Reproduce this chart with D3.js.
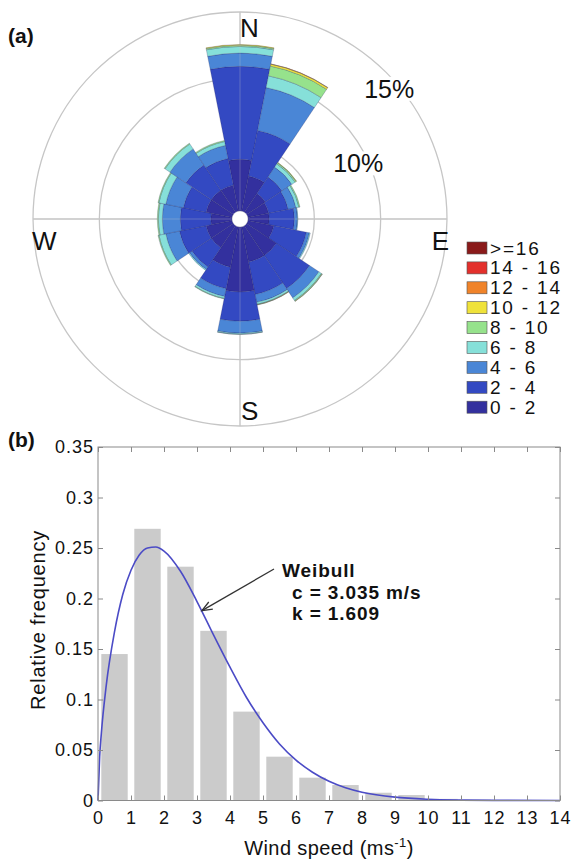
<!DOCTYPE html>
<html><head><meta charset="utf-8">
<script src="https://cdn.jsdelivr.net/npm/d3@7"></script>
<style>
body{margin:0;background:#fff}
svg{display:block}
text{font-family:"Liberation Sans",Arial,Helvetica,sans-serif;fill:#111}
</style>
</head><body>
<svg id="c" width="572" height="859"></svg>
<script>
// ---------- DATA: panel (a) wind rose (percent of time) ----------
const directions = ["N","NNE","NE","ENE","E","ESE","SE","SSE","S","SSW","SW","WSW","W","WNW","NW","NNW"];
const speedBins  = ["0 - 2","2 - 4","4 - 6","6 - 8","8 - 10","10 - 12","12 - 14","14 - 16",">=16"];
const binColors  = ["#33309e","#3349c2","#4a86d6","#86e0d9","#96e28c","#efe23a","#f0832a","#e3302c","#8a1a1a"];
const freq0_2   = [3.9,2.7,1.7,1.6,1.6,2.0,2.7,2.7,4.9,3.1,2.0,2.0,1.6,2.0,2.0,2.0];
const freq2_4   = [7.0,3.5,1.5,1.5,1.9,2.5,3.0,2.5,2.2,1.65,1.75,2.05,2.3,1.75,2.3,2.05];
const freq4_6   = [1.0,3.3,0.9,0.6,0.23,0.23,0.85,0.6,0.9,0.6,0.23,1.05,1.35,1.35,1.45,1.0];
const freq6_8   = [0.5,0.9,0.3,0.23,0.04,0.07,0.23,0.15,0.08,0.15,0.08,0.53,0.3,0.53,0.45,0.3];
const freq8_10  = [0.1,0.75,0.1,0.08,0,0,0.07,0.04,0.02,0.04,0,0.07,0.08,0.07,0.07,0.08];
const freq10_12 = [0.05,0.15,0.03,0,0,0,0.02,0.02,0,0,0,0,0,0,0,0];
const freq12_14 = [0,0.02,0,0,0,0,0,0,0,0,0,0,0,0,0,0];
const freq14_16 = [0,0,0,0,0,0,0,0,0,0,0,0,0,0,0,0];
const freq16up  = [0,0,0,0,0,0,0,0,0,0,0,0,0,0,0,0];
const ringValues = [5,10,15];
const ringLabels = ["10%","15%"];

// ---------- DATA: panel (b) histogram ----------
const speedBinCenters = [0.5,1.5,2.5,3.5,4.5,5.5,6.5,7.5,8.5,9.5,10.5,11.5,12.5,13.5];
const relFrequency    = [0.145,0.269,0.2315,0.168,0.088,0.0434,0.0226,0.0153,0.0077,0.0054,0.0016,0.0008,0.0004,0.0002];
const weibullX = [0,0.05,0.1,0.25,0.5,0.75,1,1.25,1.5,1.75,2,2.5,3,3.5,4,4.5,5,5.5,6,6.5,7,7.5,8,9,10,11,12,14];
const weibullY = [0,0.043,0.066,0.114,0.167,0.204,0.228,0.243,0.250,0.251,0.247,0.227,0.197,0.164,0.132,0.102,0.077,0.056,0.040,0.028,0.019,0.0126,0.0082,0.0033,0.0012,0.0004,0.0001,0];
const xTicks = [0,1,2,3,4,5,6,7,8,9,10,11,12,13,14];
const yTicks = [0,0.05,0.1,0.15,0.2,0.25,0.3,0.35];
const yTickLabels = ["0","0.05","0.1","0.15","0.2","0.25","0.3","0.35"];

const svg = d3.select("#c");

// ================= Panel (a) =================
const cx = 240, cy = 219;
const r = d3.scaleLinear().domain([0,15]).range([8,207]);
const ang = d3.scaleLinear().domain([0,directions.length]).range([0,2*Math.PI]);
const g = svg.append("g").attr("transform",`translate(${cx},${cy})`);

g.selectAll("circle.ring").data(ringValues).join("circle")
  .attr("class","ring").attr("r",d=>r(d))
  .attr("fill","none").attr("stroke","#c6c6c6").attr("stroke-width",1.3);
const crossLines = [[0,-1],[0,1],[-1,0],[1,0]];
g.selectAll("line.cross").data(crossLines).join("line")
  .attr("class","cross").attr("x1",0).attr("y1",0)
  .attr("x2",d=>d[0]*r(15)).attr("y2",d=>d[1]*r(15))
  .attr("stroke","#c6c6c6").attr("stroke-width",1.3);

const series = [freq0_2,freq2_4,freq4_6,freq6_8,freq8_10,freq10_12,freq12_14,freq14_16,freq16up];
const segs = [];
directions.forEach((d,i)=>{
  let cum = 0;
  series.forEach((s,j)=>{
    const v0 = cum; cum += s[i];
    if (s[i] > 0) segs.push({i, j, v0, v1:cum});
  });
});
const arc = d3.arc()
  .innerRadius(d=>r(d.v0)).outerRadius(d=>r(d.v1))
  .startAngle(d=>ang(d.i-0.5)).endAngle(d=>ang(d.i+0.5));
g.selectAll("path.seg").data(segs).join("path")
  .attr("class","seg").attr("d",arc)
  .attr("fill",d=>binColors[d.j])
  .attr("stroke","#1d1d55").attr("stroke-opacity",0.4).attr("stroke-width",0.6);
g.append("circle").attr("r",r(0)).attr("fill","#fff").attr("stroke","#1d1d55").attr("stroke-opacity",0.4).attr("stroke-width",0.6);
// faint axis lines over bars
g.selectAll("line.crossTop").data(crossLines).join("line")
  .attr("x1",d=>d[0]*r(0)).attr("y1",d=>d[1]*r(0))
  .attr("x2",d=>d[0]*r(15)).attr("y2",d=>d[1]*r(15))
  .attr("stroke","#c6c6c6").attr("stroke-opacity",0.3).attr("stroke-width",1);

// ring labels with white background
const ringLabelPos = [{v:10, bearing:64.8, dr:-10},{v:15, bearing:48.9, dr:-9}];
ringLabelPos.forEach((p,k)=>{
  const rr = r(p.v)+p.dr, a = p.bearing*Math.PI/180;
  const x = rr*Math.sin(a), y = -rr*Math.cos(a);
  const t = g.append("text").attr("x",x).attr("y",y).attr("text-anchor","middle")
    .attr("dominant-baseline","central").attr("font-size",25).text(ringLabels[k]);
  const bb = t.node().getBBox();
  g.insert("rect","text").attr("x",bb.x-1).attr("y",bb.y+2).attr("width",bb.width+2).attr("height",bb.height-4).attr("fill","#fff");
});
// compass labels
svg.append("text").attr("x",240).attr("y",37).attr("font-size",26).text("N");
svg.append("text").attr("x",241).attr("y",420).attr("font-size",26).text("S");
svg.append("text").attr("x",449).attr("y",250).attr("font-size",26).attr("text-anchor","end").text("E");
svg.append("text").attr("x",32).attr("y",250).attr("font-size",26).text("W");
svg.append("text").attr("x",8).attr("y",43).attr("font-size",21).attr("font-weight","bold").text("(a)");

// legend (top: >=16, bottom: 0-2)
const legOrder = d3.range(speedBins.length).reverse();
const lg = svg.append("g");
legOrder.forEach((j,k)=>{
  const y = 248 + k*19.9;
  lg.append("rect").attr("x",467).attr("y",y-6).attr("width",20).attr("height",12)
    .attr("fill",binColors[j]).attr("stroke","#555").attr("stroke-width",0.6);
  lg.append("text").attr("x",490).attr("y",y).attr("dominant-baseline","central")
    .attr("font-size",19).attr("letter-spacing",1.8).text(speedBins[j]);
});

// ================= Panel (b) =================
const x = d3.scaleLinear().domain([0,14]).range([98,560]);
const y = d3.scaleLinear().domain([0,0.35]).range([800.5,447]);
const gb = svg.append("g");
gb.selectAll("rect.bar").data(speedBinCenters).join("rect")
  .attr("class","bar")
  .attr("x",(d)=>x(d-0.4)).attr("width",x(0.8)-x(0))
  .attr("y",(d,i)=>y(relFrequency[i])).attr("height",(d,i)=>y(0)-y(relFrequency[i]))
  .attr("fill","#cbcbcb");

const line = d3.line().x(d=>x(d[0])).y(d=>y(d[1])).curve(d3.curveMonotoneX);
gb.append("path").attr("d",line(weibullX.map((v,i)=>[v,weibullY[i]])))
  .attr("fill","none").attr("stroke","#4b4bc6").attr("stroke-width",1.6);

const axisColor = "#8a8a8a";
function styleAxis(sel){
  sel.select(".domain").remove();
  sel.selectAll(".tick line").attr("stroke",axisColor);
  sel.selectAll(".tick text").attr("font-size",18).attr("letter-spacing",1).attr("fill","#111")
     .attr("font-family",'"Liberation Sans",Arial,sans-serif');
}
gb.append("g").attr("transform",`translate(0,${y(0)})`)
  .call(d3.axisBottom(x).tickValues(xTicks).tickFormat(d3.format("d")).tickSizeInner(-5).tickSizeOuter(0).tickPadding(11))
  .call(styleAxis);
gb.append("g").attr("transform",`translate(0,${y(0.35)})`)
  .call(d3.axisTop(x).tickValues(xTicks).tickFormat("").tickSizeInner(-5).tickSizeOuter(0))
  .call(styleAxis);
gb.append("g").attr("transform",`translate(${x(0)},0)`)
  .call(d3.axisLeft(y).tickValues(yTicks).tickFormat((d,i)=>yTickLabels[i]).tickSizeInner(-5).tickSizeOuter(0).tickPadding(4))
  .call(styleAxis);
gb.append("g").attr("transform",`translate(${x(14)},0)`)
  .call(d3.axisRight(y).tickValues(yTicks).tickFormat("").tickSizeInner(-5).tickSizeOuter(0))
  .call(styleAxis);
gb.append("rect").attr("x",x(0)).attr("y",y(0.35)).attr("width",x(14)-x(0)).attr("height",y(0)-y(0.35))
  .attr("fill","none").attr("stroke",axisColor).attr("stroke-width",1);

// axis titles
const xt = svg.append("text").attr("x",329).attr("y",855).attr("text-anchor","middle").attr("font-size",20).attr("letter-spacing",0.4);
xt.append("tspan").text("Wind speed (ms");
xt.append("tspan").attr("font-size",13).attr("dy",-8).text("-1");
xt.append("tspan").attr("dy",8).text(")");
svg.append("text").attr("transform","translate(45,620) rotate(-90)").attr("text-anchor","middle")
  .attr("font-size",20).attr("letter-spacing",0.8).text("Relative frequency");
svg.append("text").attr("x",8).attr("y",447).attr("font-size",21).attr("font-weight","bold").text("(b)");

// annotation
const tip = [x(3.15), y(0.188)];
const tail = [274,569];
gb.append("line").attr("x1",tail[0]).attr("y1",tail[1]).attr("x2",tip[0]).attr("y2",tip[1])
  .attr("stroke","#333").attr("stroke-width",1.3);
const th = Math.atan2(tail[1]-tip[1], tail[0]-tip[0]);
const ah = 11, aw = 0.38;
gb.append("path")
  .attr("d",`M${tip[0]+ah*Math.cos(th+aw)},${tip[1]+ah*Math.sin(th+aw)}L${tip[0]},${tip[1]}L${tip[0]+ah*Math.cos(th-aw)},${tip[1]+ah*Math.sin(th-aw)}`)
  .attr("fill","none").attr("stroke","#333").attr("stroke-width",1.3);
svg.append("text").attr("x",282).attr("y",577).attr("font-size",19).attr("letter-spacing",0.9).attr("font-weight","bold").text("Weibull");
svg.append("text").attr("x",292).attr("y",598.5).attr("font-size",19).attr("letter-spacing",0.9).attr("font-weight","bold").text("c = 3.035 m/s");
svg.append("text").attr("x",292).attr("y",620).attr("font-size",19).attr("letter-spacing",0.9).attr("font-weight","bold").text("k = 1.609");
</script>
</body></html>
